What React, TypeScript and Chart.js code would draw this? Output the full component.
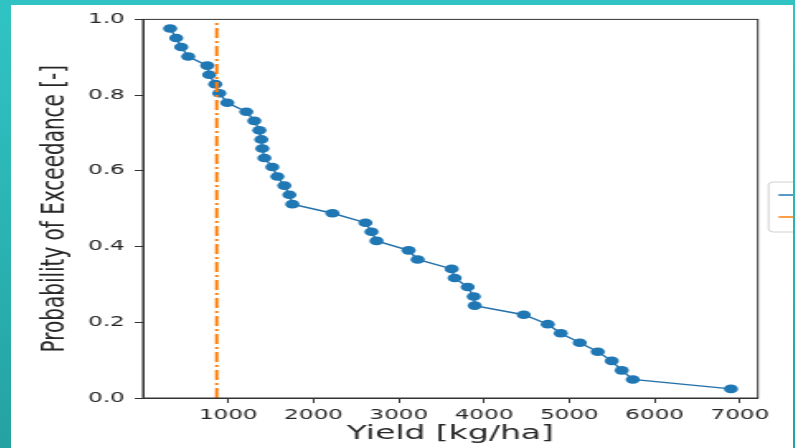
import { useEffect, useRef } from "react";
import { Chart, registerables } from "chart.js";

Chart.register(...registerables);

// ---- data ----
const yieldValues = [
  319, 390, 449, 531, 754, 777, 848, 895, 989, 1212,
  1306, 1365, 1388, 1400, 1424, 1517, 1576, 1658, 1717, 1752,
  2222, 2609, 2680, 2739, 3115, 3221, 3620, 3655, 3808, 3879,
  3890, 4465, 4747, 4899, 5122, 5333, 5497, 5614, 5744, 6895,
];
const exceedance = [
  0.976, 0.951, 0.927, 0.902, 0.878, 0.854, 0.829, 0.805, 0.780, 0.756,
  0.732, 0.707, 0.683, 0.659, 0.634, 0.610, 0.585, 0.561, 0.537, 0.512,
  0.488, 0.463, 0.439, 0.415, 0.390, 0.366, 0.341, 0.317, 0.293, 0.268,
  0.244, 0.220, 0.195, 0.171, 0.146, 0.122, 0.098, 0.073, 0.049, 0.024,
];
const thresholdYield = 865;
const xTickValues = [1000, 2000, 3000, 4000, 5000, 6000, 7000];
const yTickValues = [0.0, 0.2, 0.4, 0.6, 0.8, 1.0];
const xTitle = "Yield [kg/ha]";
const yTitle = "Probability of Exceedance [-]";
const seriesLabel = "Yield";
const thresholdLabel = "Threshold";

// internal canvas size; displayed stretched horizontally like the reference
const W = 474;
const H = 443;
const FONT = "'DejaVu Sans', sans-serif";

const bgPlugin = {
  id: "bg",
  beforeDraw(chart: any) {
    const { ctx } = chart;
    ctx.save();
    ctx.fillStyle = "#ffffff";
    ctx.fillRect(0, 0, chart.width, chart.height);
    ctx.restore();
  },
};

const framePlugin = {
  id: "frame",
  afterDraw(chart: any) {
    const { ctx, chartArea: a } = chart;
    ctx.save();
    ctx.strokeStyle = "#333333";
    ctx.lineWidth = 1;
    ctx.strokeRect(a.left, a.top, a.right - a.left, a.bottom - a.top);
    ctx.restore();
  },
};

const legendPlugin = {
  id: "outsideLegend",
  afterDraw(chart: any) {
    const { ctx, chartArea: a } = chart;
    const x = a.right + 6.5;
    const y = 177;
    const w = 90;
    const h = 50;
    const r = 3;
    ctx.save();
    ctx.beginPath();
    ctx.moveTo(x + r, y);
    ctx.lineTo(x + w - r, y);
    ctx.arcTo(x + w, y, x + w, y + r, r);
    ctx.lineTo(x + w, y + h - r);
    ctx.arcTo(x + w, y + h, x + w - r, y + h, r);
    ctx.lineTo(x + r, y + h);
    ctx.arcTo(x, y + h, x, y + h - r, r);
    ctx.lineTo(x, y + r);
    ctx.arcTo(x, y, x + r, y, r);
    ctx.closePath();
    ctx.fillStyle = "rgba(255,255,255,0.8)";
    ctx.fill();
    ctx.strokeStyle = "rgba(204,204,204,0.9)";
    ctx.lineWidth = 1;
    ctx.stroke();

    ctx.lineWidth = 1.5;
    ctx.strokeStyle = "#1f77b4";
    ctx.beginPath();
    ctx.moveTo(x + 6, y + 13);
    ctx.lineTo(x + 34, y + 13);
    ctx.stroke();

    ctx.strokeStyle = "#ff7f0e";
    ctx.setLineDash([10, 3, 2, 3]);
    ctx.beginPath();
    ctx.moveTo(x + 6, y + 35);
    ctx.lineTo(x + 34, y + 35);
    ctx.stroke();
    ctx.setLineDash([]);

    ctx.fillStyle = "#222";
    ctx.font = `14px ${FONT}`;
    ctx.textBaseline = "middle";
    ctx.fillText(seriesLabel, x + 42, y + 13);
    ctx.fillText(thresholdLabel, x + 42, y + 35);
    ctx.restore();
  },
};

export default function App() {
  const ref = useRef<HTMLCanvasElement | null>(null);

  useEffect(() => {
    if (!ref.current) return;
    const points = yieldValues.map((v, i) => ({ x: v, y: exceedance[i] }));
    const chart = new Chart(ref.current, {
      type: "line",
      data: {
        datasets: [
          {
            label: seriesLabel,
            data: points,
            borderColor: "#2470a8",
            borderWidth: 1.4,
            pointRadius: 4.3,
            pointBackgroundColor: "#1f77b4",
            pointBorderColor: "#1f77b4",
            pointBorderWidth: 0,
            tension: 0,
            order: 1,
          },
          {
            label: thresholdLabel,
            data: [
              { x: thresholdYield, y: 0 },
              { x: thresholdYield, y: 1 },
            ],
            borderColor: "#ff7f0e",
            borderWidth: 2,
            borderDash: [10, 3, 2, 3],
            pointRadius: 0,
            order: 0,
          },
        ],
      },
      options: {
        responsive: false,
        animation: false,
        devicePixelRatio: 1,
        layout: { padding: { left: 0, top: 13, right: 21.3, bottom: 0 } },
        plugins: {
          legend: { display: false },
          tooltip: { enabled: false },
        },
        scales: {
          x: {
            type: "linear",
            min: 0,
            max: 7210,
            afterBuildTicks: (s: any) => {
              s.ticks = xTickValues.map((v) => ({ value: v }));
            },
            afterFit: (s: any) => {
              s.height = 50;
            },
            ticks: {
              color: "#262626",
              font: { family: FONT, size: 14 },
              padding: 3.5,
              maxRotation: 0,
              callback: (v: any) => String(v),
            },
            grid: {
              drawOnChartArea: false,
              drawTicks: true,
              tickLength: 5,
              color: "#333333",
            },
            border: { display: true, color: "#333333", width: 1 },
            title: {
              display: true,
              text: xTitle,
              color: "#262626",
              font: { family: FONT, size: 20 },
              padding: { top: 0, bottom: 2 },
            },
          },
          y: {
            type: "linear",
            min: 0,
            max: 1,
            afterBuildTicks: (s: any) => {
              s.ticks = yTickValues.map((v) => ({ value: v }));
            },
            afterFit: (s: any) => {
              s.width = 80;
            },
            ticks: {
              color: "#262626",
              font: { family: FONT, size: 14 },
              padding: 6,
              callback: (v: any) => Number(v).toFixed(1),
            },
            grid: {
              drawOnChartArea: false,
              drawTicks: true,
              tickLength: 5,
              color: "#333333",
            },
            border: { display: true, color: "#333333", width: 1 },
            title: {
              display: true,
              text: yTitle,
              color: "#262626",
              font: { family: FONT, size: 20 },
              padding: { top: 14.7, bottom: 0 },
            },
          },
        },
      },
      plugins: [bgPlugin, framePlugin, legendPlugin],
    });
    return () => chart.destroy();
  }, []);

  return (
    <div
      style={{
        position: "fixed",
        left: 0,
        top: 0,
        width: 795,
        height: 448,
        background: "linear-gradient(180deg, #31c3c3 0%, #2bb3b3 50%, #25a2a2 100%)",
        overflow: "hidden",
      }}
    >
      <canvas
        ref={ref}
        width={W}
        height={H}
        style={{
          position: "absolute",
          left: 11,
          top: 5,
          width: 782,
          height: 443,
          background: "#ffffff",
        }}
      />
    </div>
  );
}
